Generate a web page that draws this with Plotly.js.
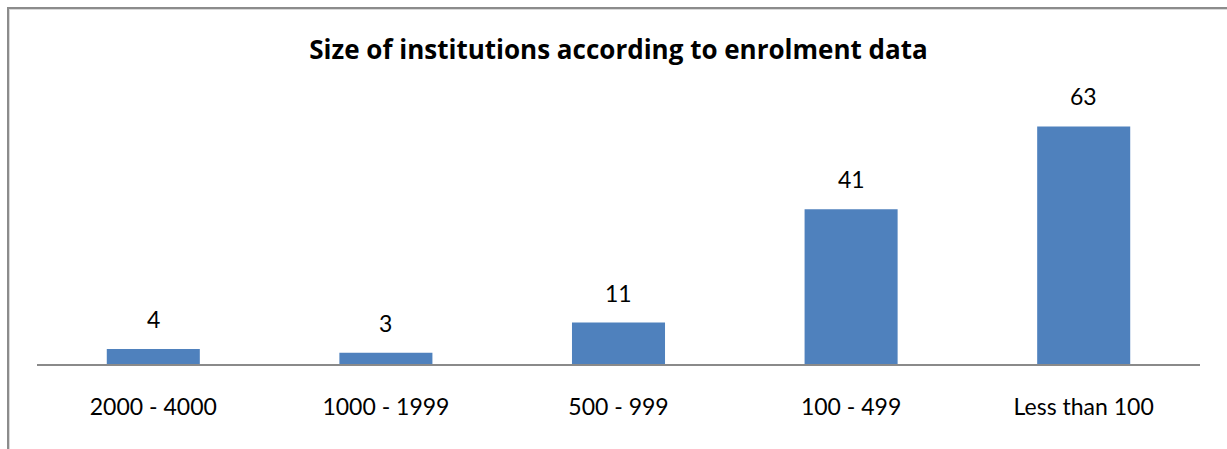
<!DOCTYPE html>
<html>
<head>
<meta charset="utf-8">
<script src="https://cdn.plot.ly/plotly-3.0.1.min.js"></script>
<style>
  html, body { margin: 0; padding: 0; background: #ffffff; }
  #wrap { position: relative; width: 1227px; height: 449px; overflow: hidden; }
  #chart { position: absolute; left: 0; top: 0; width: 1227px; height: 449px; }
  #frame { position: absolute; left: 7px; top: 7px; width: 1240px; height: 460px;
           border-left: 2px solid #8c8c8c; border-top: 2px solid #8c8c8c;
           box-shadow: inset 1px 1px 0 #d9d9d9; pointer-events: none; }
</style>
</head>
<body>
<div id="wrap">
  <div id="chart"></div>
  <div id="frame"></div>
</div>
<script>
const categories = ["2000 - 4000", "1000 - 1999", "500 - 999", "100 - 499", "Less than 100"];
const institutions = [4, 3, 11, 41, 63];
const chartTitle = "Size of institutions according to enrolment data";

const FONT = "Lato, 'Open Sans', sans-serif";
const TITLE_FONT = "'Open Sans', Lato, sans-serif";

const trace = {
  type: "bar",
  x: categories,
  y: institutions,
  marker: { color: "#4f81bd" },
  hoverinfo: "skip",
  cliponaxis: false
};

const annotations = categories.map((c, i) => ({
  x: c,
  y: institutions[i],
  xref: "x",
  yref: "y",
  text: String(institutions[i]),
  showarrow: false,
  yanchor: "bottom",
  yshift: 14,
  font: { family: FONT, size: 23, color: "#000000" }
}));

const layout = {
  width: 1227,
  height: 449,
  margin: { l: 37, r: 27, t: 99.5, b: 85, pad: 0 },
  paper_bgcolor: "#ffffff",
  plot_bgcolor: "#ffffff",
  showlegend: false,
  bargap: 0.6,
  title: {
    text: "<b>" + chartTitle + "</b>",
    font: { family: TITLE_FONT, size: 26, color: "#000000" },
    x: 0.5,
    xref: "paper",
    xanchor: "center",
    y: 1 - 50 / 449,
    yref: "container",
    yanchor: "middle"
  },
  xaxis: {
    type: "category",
    showline: true,
    linecolor: "#8a8a8a",
    linewidth: 1.5,
    showgrid: false,
    zeroline: false,
    ticks: "outside",
    ticklen: 22,
    tickcolor: "rgba(0,0,0,0)",
    tickfont: { family: FONT, size: 23, color: "#000000" },
    fixedrange: true
  },
  yaxis: {
    range: [0, 70],
    visible: false,
    showgrid: false,
    zeroline: false,
    fixedrange: true
  },
  annotations: annotations
};

Plotly.newPlot("chart", [trace], layout, { displayModeBar: false, staticPlot: true });
</script>
</body>
</html>
